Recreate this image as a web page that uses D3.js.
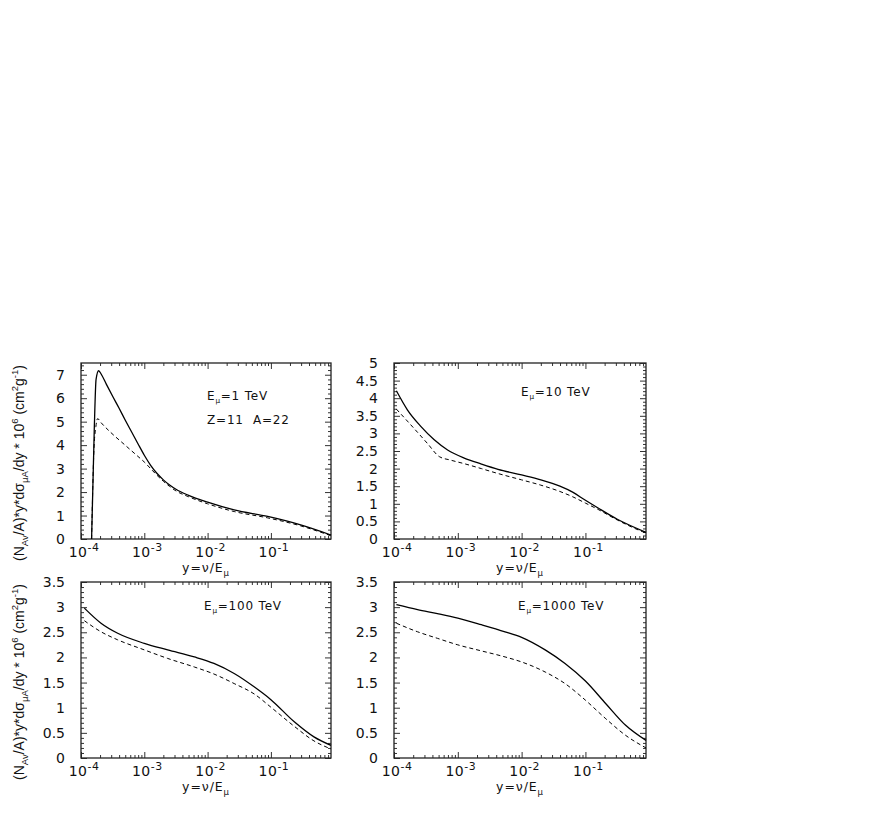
<!DOCTYPE html>
<html><head><meta charset="utf-8">
<script src="https://cdn.jsdelivr.net/npm/d3@7"></script>
<style>body{margin:0;background:#fff}svg{display:block}</style>
</head><body><svg id="c" width="872" height="817"></svg>
<script>
// ---------- data ----------
const energyLabels = ["1 TeV", "10 TeV", "100 TeV", "1000 TeV"];
const targetLabel = "Z=11  A=22";
const xDomain = [1e-4, 0.89];
const xMajorTicks = [1e-4, 1e-3, 1e-2, 1e-1];
const xMajorExp = ["-4", "-3", "-2", "-1"];
const yMaxes = [7.5, 5, 3.5, 3.5];
const yTicksP1 = [0, 1, 2, 3, 4, 5, 6, 7];
const yTicksP2 = [0, 0.5, 1, 1.5, 2, 2.5, 3, 3.5, 4, 4.5, 5];
const yTicksP34 = [0, 0.5, 1, 1.5, 2, 2.5, 3, 3.5];

// Panel 1: E = 1 TeV
const p1SolidX = [1.47e-4, 1.62e-4, 1.73e-4, 1.9e-4, 2.09e-4, 2.51e-4, 3.16e-4, 3.98e-4, 5.01e-4, 6.31e-4, 7.94e-4, 1e-3, 1.26e-3, 1.58e-3, 2.0e-3, 2.51e-3, 3.16e-3, 5.01e-3, 0.01, 0.0263, 0.089, 0.295, 0.89];
const p1SolidY = [0, 4.67, 6.8, 7.17, 7.02, 6.6, 6.08, 5.58, 5.06, 4.56, 4.06, 3.57, 3.14, 2.8, 2.52, 2.3, 2.12, 1.86, 1.57, 1.24, 0.96, 0.6, 0.17];
const p1DashX = [1.47e-4, 1.6e-4, 1.72e-4, 1.83e-4, 2.07e-4, 2.98e-4, 4.83e-4, 7.85e-4, 1e-3, 1.26e-3, 1.58e-3, 2.0e-3, 2.51e-3, 3.16e-3, 5.01e-3, 0.01, 0.0263, 0.089, 0.295, 0.89];
const p1DashY = [0, 3.8, 4.8, 5.13, 4.96, 4.53, 4.03, 3.53, 3.28, 3.0, 2.72, 2.46, 2.24, 2.05, 1.8, 1.5, 1.17, 0.9, 0.56, 0.14];

// Panel 2: E = 10 TeV
const p2SolidX = [1.09e-4, 1.62e-4, 2.63e-4, 4.27e-4, 6.92e-4, 1.26e-3, 2.34e-3, 4.27e-3, 0.01, 0.02, 0.0398, 0.0631, 0.1, 0.158, 0.316, 0.89];
const p2SolidY = [4.21, 3.67, 3.2, 2.82, 2.53, 2.3, 2.13, 1.98, 1.82, 1.68, 1.5, 1.33, 1.1, 0.88, 0.56, 0.19];
const p2DashX = [1.09e-4, 1.62e-4, 2.34e-4, 3.36e-4, 5.13e-4, 7.76e-4, 1.26e-3, 2.34e-3, 4.27e-3, 0.01, 0.02, 0.0398, 0.0631, 0.1, 0.158, 0.316, 0.78, 0.89];
const p2DashY = [3.69, 3.35, 3.03, 2.71, 2.34, 2.24, 2.14, 2.0, 1.86, 1.68, 1.53, 1.35, 1.2, 1.02, 0.84, 0.54, 0.21, 0.17];

// Panel 3: E = 100 TeV
const p3SolidX = [1.13e-4, 2.07e-4, 3.8e-4, 1e-3, 2.34e-3, 6.17e-3, 0.0126, 0.0263, 0.055, 0.1, 0.234, 0.479, 0.89];
const p3SolidY = [2.98, 2.68, 2.48, 2.28, 2.15, 2.01, 1.88, 1.68, 1.41, 1.16, 0.72, 0.42, 0.25];
const p3DashX = [1.13e-4, 2.07e-4, 3.8e-4, 1e-3, 2.34e-3, 6.17e-3, 0.0126, 0.0263, 0.055, 0.1, 0.234, 0.479, 0.89];
const p3DashY = [2.73, 2.51, 2.35, 2.15, 1.98, 1.81, 1.67, 1.48, 1.27, 1.01, 0.63, 0.34, 0.18];

// Panel 4: E = 1000 TeV
const p4SolidX = [1.09e-4, 2.34e-4, 4.79e-4, 1e-3, 2.34e-3, 5.5e-3, 0.01, 0.0234, 0.0479, 0.1, 0.209, 0.427, 0.89];
const p4SolidY = [3.05, 2.95, 2.87, 2.78, 2.65, 2.51, 2.4, 2.15, 1.88, 1.53, 1.08, 0.65, 0.35];
const p4DashX = [1.09e-4, 2.34e-4, 4.79e-4, 1e-3, 2.34e-3, 5.5e-3, 0.01, 0.0234, 0.0479, 0.1, 0.209, 0.427, 0.89];
const p4DashY = [2.68, 2.51, 2.38, 2.25, 2.13, 2.01, 1.91, 1.71, 1.48, 1.15, 0.78, 0.45, 0.2];

// ---------- layout ----------
const panels = [
  {L: 81, R: 331, T: 363, B: 539, yMax: yMaxes[0], yTicks: yTicksP1, yMinorStep: 0.2, sx: p1SolidX, sy: p1SolidY, dx: p1DashX, dy: p1DashY, label: energyLabels[0], lx: 207, ly: 400, extra: true, yLabel: true},
  {L: 394, R: 646, T: 363, B: 539, yMax: yMaxes[1], yTicks: yTicksP2, yMinorStep: 0.1, sx: p2SolidX, sy: p2SolidY, dx: p2DashX, dy: p2DashY, label: energyLabels[1], lx: 521, ly: 396, extra: false, yLabel: false},
  {L: 81, R: 331, T: 582, B: 758, yMax: yMaxes[2], yTicks: yTicksP34, yMinorStep: 0.1, sx: p3SolidX, sy: p3SolidY, dx: p3DashX, dy: p3DashY, label: energyLabels[2], lx: 204, ly: 610, extra: false, yLabel: true},
  {L: 394, R: 646, T: 582, B: 758, yMax: yMaxes[3], yTicks: yTicksP34, yMinorStep: 0.1, sx: p4SolidX, sy: p4SolidY, dx: p4DashX, dy: p4DashY, label: energyLabels[3], lx: 518, ly: 610, extra: false, yLabel: false}
];

const svg = d3.select("#c");
const FONT = "'DejaVu Sans', Verdana, sans-serif";
const FONT2 = "'Liberation Sans', Arial, sans-serif";
const INK = "#111";

function rich(sel, parts, size, supScale) {
  let cur = 0;
  parts.forEach(p => {
    const target = p.s === "sup" ? -size * 0.45 : p.s === "sub" ? size * 0.28 : 0;
    const ts = sel.append("tspan").text(p.t).attr("dy", target - cur);
    if (p.s) ts.attr("font-size", size * (supScale || 0.68));
    cur = target;
  });
}

panels.forEach((p, i) => {
  const g = svg.append("g");
  const x = d3.scaleLog().domain(xDomain).range([p.L, p.R]);
  const y = d3.scaleLinear().domain([0, p.yMax]).range([p.B, p.T]);

  const xMinor = [];
  for (let e = -4; e <= -1; e++) for (let k = 2; k <= 9; k++) {
    const v = k * Math.pow(10, e);
    if (v < xDomain[1]) xMinor.push(v);
  }
  const yMinor = d3.range(0, p.yMax + 1e-9, p.yMinorStep).filter(v => !p.yTicks.some(t => Math.abs(t - v) < 1e-6));

  const axes = [
    [d3.axisBottom(x).tickValues(xMinor).tickSize(-3), `translate(0,${p.B})`],
    [d3.axisBottom(x).tickValues(xMajorTicks).tickSize(-6), `translate(0,${p.B})`],
    [d3.axisTop(x).tickValues(xMinor).tickSize(-3), `translate(0,${p.T})`],
    [d3.axisTop(x).tickValues(xMajorTicks).tickSize(-6), `translate(0,${p.T})`],
    [d3.axisLeft(y).tickValues(yMinor).tickSize(-3), `translate(${p.L},0)`],
    [d3.axisLeft(y).tickValues(p.yTicks).tickSize(-6), `translate(${p.L},0)`],
    [d3.axisRight(y).tickValues(yMinor).tickSize(-3), `translate(${p.R},0)`],
    [d3.axisRight(y).tickValues(p.yTicks).tickSize(-6), `translate(${p.R},0)`]
  ];
  axes.forEach(([ax, tr]) => {
    const a = g.append("g").attr("transform", tr).call(ax.tickFormat(""));
    a.select(".domain").remove();
    a.selectAll("line").attr("stroke", "#333").attr("stroke-width", 1);
  });

  g.append("rect").attr("x", p.L).attr("y", p.T).attr("width", p.R - p.L).attr("height", p.B - p.T)
    .attr("fill", "none").attr("stroke", "#222").attr("stroke-width", 1.3);

  // y tick labels
  p.yTicks.forEach(v => {
    g.append("text").attr("x", p.L - 16).attr("y", y(v) + 5).attr("text-anchor", "end")
      .attr("font-family", FONT).attr("font-size", 14).attr("fill", INK).text(String(v));
  });

  // x tick labels
  xMajorTicks.forEach((v, k) => {
    const t = g.append("text").attr("x", x(v) + 3).attr("y", p.B + 18).attr("text-anchor", "middle")
      .attr("font-family", FONT).attr("font-size", 14).attr("fill", INK).attr("letter-spacing", 0.5);
    rich(t, [{t: "10"}, {t: xMajorExp[k], s: "sup"}], 14, 0.78);
  });

  // x axis title
  const xt = g.append("text").attr("x", (p.L + p.R) / 2).attr("y", p.B + 33).attr("text-anchor", "middle")
    .attr("font-family", FONT).attr("font-size", 12.5).attr("fill", INK).attr("letter-spacing", 0.9);
  rich(xt, [{t: "y=ν/E"}, {t: "μ", s: "sub"}], 12.5);

  // y axis title
  if (p.yLabel) {
    const cy = (p.T + p.B) / 2 + 12;
    const yt = g.append("text").attr("transform", `translate(24,${cy}) rotate(-90)`).attr("text-anchor", "middle")
      .attr("font-family", FONT2).attr("font-size", 14).attr("fill", INK);
    rich(yt, [{t: "(N"}, {t: "Av", s: "sub"}, {t: "/A)*y*dσ"}, {t: "μA", s: "sub"}, {t: "/dy * 10"}, {t: "6", s: "sup"},
      {t: " (cm"}, {t: "2", s: "sup"}, {t: "g"}, {t: "-1", s: "sup"}, {t: ")"}], 14);
  }

  // energy label
  const et = g.append("text").attr("x", p.lx).attr("y", p.ly).attr("font-family", FONT).attr("font-size", 12)
    .attr("fill", INK).attr("letter-spacing", 0.8);
  rich(et, [{t: "E"}, {t: "μ", s: "sub"}, {t: "=" + p.label}], 12, 0.6);
  if (p.extra) {
    g.append("text").attr("x", p.lx).attr("y", p.ly + 24).attr("font-family", FONT).attr("font-size", 12)
      .attr("fill", INK).attr("letter-spacing", 0.8).style("white-space", "pre").text(targetLabel);
  }

  // curves
  const line = d3.line().x(d => x(d[0])).y(d => y(d[1])).curve(d3.curveMonotoneX);
  g.append("path").attr("d", line(d3.zip(p.dx, p.dy))).attr("fill", "none").attr("stroke", "#000")
    .attr("stroke-width", 1).attr("stroke-dasharray", "4,3");
  g.append("path").attr("d", line(d3.zip(p.sx, p.sy))).attr("fill", "none").attr("stroke", "#000").attr("stroke-width", 1.3);
});
</script>
</body></html>
